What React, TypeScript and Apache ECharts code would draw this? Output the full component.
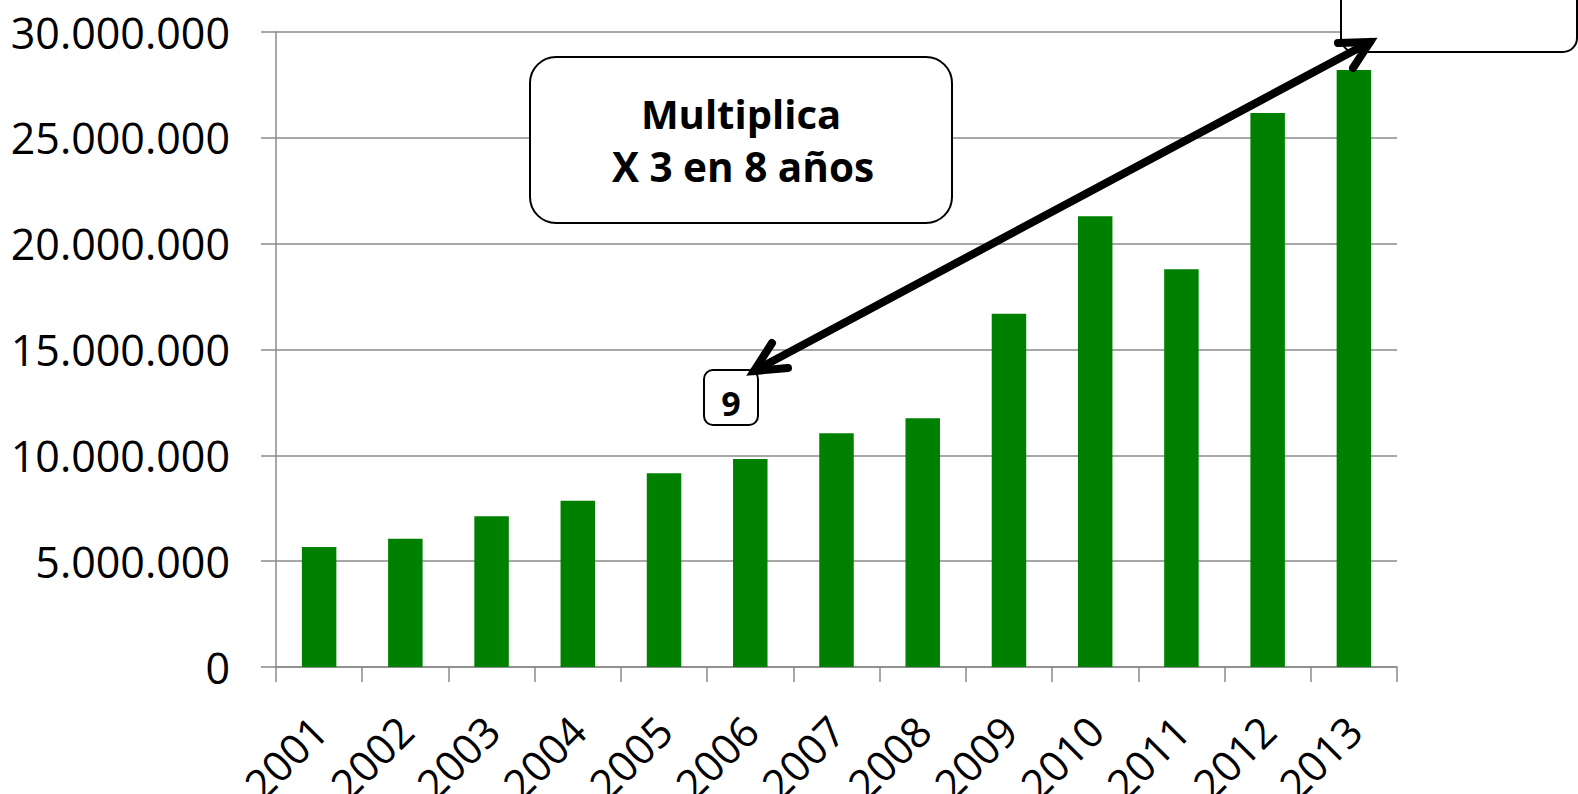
import React, { useEffect, useRef } from "react";
import * as echarts from "echarts";

const categories = ["2001", "2002", "2003", "2004", "2005", "2006", "2007", "2008", "2009", "2010", "2011", "2012", "2013"];
const values = [5670000, 6060000, 7120000, 7860000, 9150000, 9830000, 11040000, 11750000, 16690000, 21300000, 18790000, 26170000, 28200000];
const yMin = 0;
const yMax = 30000000;
const yStep = 5000000;
const boxLines = ["Multiplica", "X 3 en 8 años"];
const smallBoxText = "9";

const FONT = "'Open Sans', 'Liberation Sans', sans-serif";
const GRAY = "#8a8a8a";

function fmt(v: number): string {
  return String(Math.round(v)).replace(/\B(?=(\d{3})+(?!\d))/g, ".");
}

export default function App() {
  const ref = useRef<HTMLDivElement>(null);
  useEffect(() => {
    document.body.style.margin = "0";
    const chart = echarts.init(ref.current!, null, { renderer: "svg" });
    const lineStyle = { stroke: "#000", lineWidth: 8, lineCap: "round", lineJoin: "miter", fill: null };
    chart.setOption({
      animation: false,
      backgroundColor: "#fff",
      grid: { left: 276, right: 181, top: 32, bottom: 127, containLabel: false, outerBoundsMode: "none" },
      xAxis: {
        type: "category",
        data: categories,
        axisLine: { show: true, lineStyle: { color: GRAY, width: 1.5 } },
        axisTick: { show: true, length: 15, interval: 0, alignWithLabel: false, lineStyle: { color: GRAY, width: 1.5 } },
        axisLabel: { rotate: 45, interval: 0, margin: 56, fontSize: 42, color: "#000", fontFamily: FONT },
        splitLine: { show: false },
      },
      yAxis: {
        type: "value",
        min: yMin,
        max: yMax,
        interval: yStep,
        axisLine: { show: true, lineStyle: { color: GRAY, width: 1.5 } },
        axisTick: { show: true, length: 15, lineStyle: { color: GRAY, width: 1.5 } },
        axisLabel: { margin: 46, fontSize: 43, color: "#000", fontFamily: FONT, formatter: (v: number) => fmt(v) },
        splitLine: { show: true, lineStyle: { color: GRAY, width: 1.5 } },
      },
      series: [
        {
          type: "bar",
          data: values,
          barCategoryGap: "60%",
          itemStyle: { color: "#008000" },
        },
      ],
      graphic: [
        {
          type: "rect",
          z: 100,
          shape: { x: 530, y: 57, width: 422, height: 166, r: 26 },
          style: { fill: "#fff", stroke: "#000", lineWidth: 2 },
        },
        {
          type: "text",
          z: 101,
          style: { text: boxLines[0], x: 741, y: 113, fontSize: 40, fontWeight: "bold", fontFamily: FONT, fill: "#000", textAlign: "center", textVerticalAlign: "middle" },
        },
        {
          type: "text",
          z: 101,
          style: { text: boxLines[1], x: 743, y: 166, fontSize: 40.5, fontWeight: "bold", fontFamily: FONT, fill: "#000", textAlign: "center", textVerticalAlign: "middle" },
        },
        {
          type: "rect",
          z: 100,
          shape: { x: 704, y: 370, width: 54, height: 55, r: 9 },
          style: { fill: "#fff", stroke: "#000", lineWidth: 2 },
        },
        {
          type: "text",
          z: 101,
          style: { text: smallBoxText, x: 731, y: 403, fontSize: 34, fontWeight: "bold", fontFamily: FONT, fill: "#000", textAlign: "center", textVerticalAlign: "middle" },
        },
        {
          type: "rect",
          z: 100,
          shape: { x: 1341, y: -60, width: 236, height: 112, r: 14 },
          style: { fill: "#fff", stroke: "#000", lineWidth: 2 },
        },
        {
          type: "polyline",
          z: 102,
          shape: { points: [[754, 371], [1370, 42]] },
          style: lineStyle,
        },
        {
          type: "polyline",
          z: 102,
          shape: { points: [[788, 368], [754, 371], [772, 343]] },
          style: lineStyle,
        },
        {
          type: "polyline",
          z: 102,
          shape: { points: [[1338, 43], [1370, 42], [1353, 68]] },
          style: lineStyle,
        },
      ],
    });
    return () => chart.dispose();
  }, []);
  return <div ref={ref} style={{ width: 1578, height: 794 }} />;
}
